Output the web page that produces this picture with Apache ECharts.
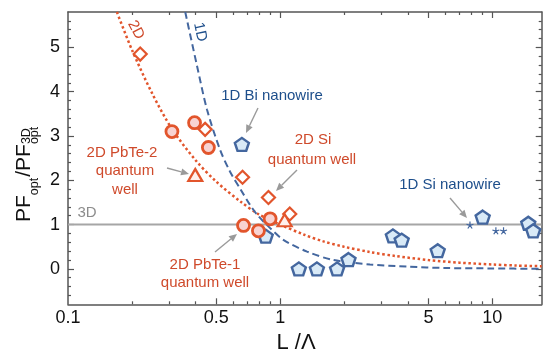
<!DOCTYPE html>
<html><head><meta charset="utf-8">
<script src="https://cdn.jsdelivr.net/npm/echarts@6/dist/echarts.min.js"></script>
<style>html,body{margin:0;padding:0;background:#fff}#c{width:556px;height:360px}</style>
</head><body><div id="c"></div>
<script>
// ---------- data ----------
const xMin = 0.1, xMax = 17.1;
const yMin = -0.8, yMax = 5.8;
const xTickLabels = [0.1, 0.5, 1, 5, 10];
const xTickMajor = [0.5, 1, 5, 10];
const xTickMinor = [0.2, 0.3, 0.4, 0.6, 0.7, 0.8, 0.9, 2, 3, 4, 6, 7, 8, 9];
const yTickLabels = [0, 1, 2, 3, 4, 5];
const yTickMinor = [-0.6, -0.4, -0.2, 0.2, 0.4, 0.6, 0.8, 1.2, 1.4, 1.6, 1.8, 2.2, 2.4, 2.6, 2.8,
  3.2, 3.4, 3.6, 3.8, 4.2, 4.4, 4.6, 4.8, 5.2, 5.4, 5.6];

const curve2D_x = [0.17, 0.2, 0.25, 0.31, 0.4, 0.5, 0.65, 0.8, 1.0, 1.3, 1.6, 2.0, 2.65, 3.5, 5, 7, 10, 13, 17.1];
const curve2D_y = [5.8, 4.95, 3.95, 3.15, 2.45, 1.97, 1.52, 1.22, 1.0, 0.77, 0.62, 0.5, 0.38, 0.29, 0.2, 0.14, 0.1, 0.075, 0.06];
const curve1D_x = [0.357, 0.405, 0.452, 0.52, 0.58, 0.65, 0.72, 0.78, 0.88, 1.04, 1.34, 1.78, 2.65, 4, 6, 10, 17.1];
const curve1D_y = [5.8, 4.6, 3.6, 2.7, 2.2, 1.8, 1.45, 1.22, 0.96, 0.65, 0.39, 0.2, 0.1, 0.05, 0.02, 0.01, 0.0];
const line3D_x = [0.1, 17.1];
const line3D_y = [1, 1];

const diamonds_x = [0.219, 0.443, 0.665, 0.881, 1.11];
const diamonds_y = [4.85, 3.15, 2.07, 1.61, 1.24];
const circles_x = [0.309, 0.395, 0.459, 0.672, 0.790, 0.897];
const circles_y = [3.10, 3.30, 2.74, 0.98, 0.86, 1.13];
const triangles_x = [0.398, 1.05];
const triangles_y = [2.12, 1.10];
const pentagons_x = [0.660, 0.855, 1.225, 1.49, 1.855, 2.10, 3.40, 3.74, 5.53, 9.01, 14.78, 15.6];
const pentagons_y = [2.81, 0.74, 0.0, 0.0, 0.0, 0.21, 0.745, 0.65, 0.41, 1.17, 1.03, 0.86];
const stars_x = [7.85, 10.4, 11.3];
const stars_y = [0.99, 0.86, 0.86];

// ---------- helpers ----------
const zip = (xs, ys) => xs.map((x, i) => [x, ys[i]]);
const L10 = v => Math.log10(v);
const FONT = '"Liberation Sans", Arial, Helvetica, sans-serif';
const RED = '#e2552c', RED_TXT = '#cf4a2b', BLUE = '#44679f', BLUE_TXT = '#1d4e8b', GRAY = '#a6a6a6', AX = '#555';

const chart = echarts.init(document.getElementById('c'), null, {renderer: 'canvas'});

function xAux(pos, values, len, showLine, labels) {
  return {
    type: 'value', min: L10(xMin), max: L10(xMax), position: pos, gridIndex: 0,
    axisLine: {show: showLine, onZero: false, lineStyle: {color: AX, width: 1.5}},
    axisTick: {show: true, inside: true, length: len, customValues: values.map(L10), lineStyle: {color: AX, width: 1.2}},
    axisLabel: labels ? {show: true, customValues: labels.map(L10), margin: 5, color: '#111', fontSize: 18, fontFamily: FONT,
      formatter: v => String(parseFloat(Math.pow(10, v).toPrecision(3)))} : {show: false},
    splitLine: {show: false}
  };
}
function yAux(pos, values, len, showLine, labels) {
  return {
    type: 'value', min: yMin, max: yMax, position: pos, gridIndex: 0,
    axisLine: {show: showLine, onZero: false, lineStyle: {color: AX, width: 1.5}},
    axisTick: {show: true, inside: true, length: len, customValues: values, lineStyle: {color: AX, width: 1.2}},
    axisLabel: labels ? {show: true, customValues: labels, margin: 8, color: '#111', fontSize: 18, fontFamily: FONT} : {show: false},
    splitLine: {show: false}
  };
}

const pentPath = 'path://M50,0 L97.55,34.55 L79.39,90.45 L20.61,90.45 L2.45,34.55 Z';
const starPath = 'path://M0,-5L0,0M0,0L4.76,-1.55M0,0L2.94,4.05M0,0L-2.94,4.05M0,0L-4.76,-1.55';

const option = {
  animation: false,
  backgroundColor: '#fff',
  grid: {left: 68, top: 12, right: 14.3, bottom: 55.7, containLabel: false},
  xAxis: [
    {type: 'log', logBase: 10, min: xMin, max: xMax, position: 'bottom',
     axisLine: {show: true, onZero: false, lineStyle: {color: AX, width: 1.5}},
     axisTick: {show: false}, axisLabel: {show: false}, splitLine: {show: false}, minorTick: {show: false}},
    xAux('bottom', xTickMajor, 6, false, xTickLabels),
    xAux('bottom', xTickMinor, 3, false, null),
    xAux('top', xTickMajor, 6, true, null),
    xAux('top', xTickMinor, 3, false, null)
  ],
  yAxis: [
    yAux('left', yTickLabels, 6, true, yTickLabels),
    yAux('left', yTickMinor, 3, false, null),
    yAux('right', yTickLabels, 6, true, null),
    yAux('right', yTickMinor, 3, false, null)
  ],
  series: [
    {type: 'line', data: zip(line3D_x, line3D_y), showSymbol: false, symbol: 'none',
     lineStyle: {color: GRAY, width: 2}, z: 1},
    {type: 'line', data: zip(curve2D_x, curve2D_y), smooth: 0.3, symbol: 'none',
     lineStyle: {color: RED, width: 2.5, type: [2.5, 2.6], cap: 'butt'}, z: 2},
    {type: 'line', data: zip(curve1D_x, curve1D_y), smooth: 0.3, symbol: 'none',
     lineStyle: {color: BLUE, width: 2, type: [7, 4], cap: 'butt'}, z: 2},
    {type: 'scatter', data: zip(pentagons_x, pentagons_y), symbol: pentPath, symbolSize: [14, 13],
     itemStyle: {color: '#d9eaf7', borderColor: BLUE, borderWidth: 2.4, opacity: 1}, z: 3},
    {type: 'scatter', data: zip(diamonds_x, diamonds_y), symbol: 'diamond', symbolSize: [13, 13],
     itemStyle: {color: '#ffffff', borderColor: RED, borderWidth: 2.2, opacity: 1}, z: 4},
    {type: 'scatter', data: zip(triangles_x, triangles_y), symbol: 'triangle', symbolSize: [14, 12],
     itemStyle: {color: '#fff0ec', borderColor: RED, borderWidth: 2.2, opacity: 1}, z: 4},
    {type: 'scatter', data: zip(circles_x, circles_y), symbol: 'circle', symbolSize: 12,
     itemStyle: {color: '#f8d3d2', borderColor: RED, borderWidth: 2.8, opacity: 1}, z: 5},
    {type: 'scatter', data: zip(stars_x, stars_y), symbol: starPath, symbolSize: 7,
     itemStyle: {color: 'none', borderColor: BLUE, borderWidth: 1.2, opacity: 1}, z: 5}
  ],
  graphic: []
};
chart.setOption(option);

// ---------- annotations ----------
const cv = document.createElement('canvas').getContext('2d');
function tw(t, s) { cv.font = s + 'px ' + FONT; return cv.measureText(t).width; }
function txt(t, x, y, color, size, extra) {
  return Object.assign({type: 'text', x: x, y: y, z: 100,
    style: {text: t, fill: color, font: size + 'px ' + FONT, align: 'center', verticalAlign: 'middle',
            textAlign: 'center', textVerticalAlign: 'middle'}}, extra || {});
}
function arrow(x1, y1, x2, y2) {
  const a = Math.atan2(y2 - y1, x2 - x1), hl = 8, hw = 3.5;
  const bx = x2 - hl * Math.cos(a), by = y2 - hl * Math.sin(a);
  return [
    {type: 'line', z: 90, shape: {x1: x1, y1: y1, x2: bx, y2: by}, style: {stroke: '#9a9a9a', lineWidth: 1.4}},
    {type: 'polygon', z: 90, shape: {points: [[x2, y2],
      [bx + hw * Math.sin(a), by - hw * Math.cos(a)], [bx - hw * Math.sin(a), by + hw * Math.cos(a)]]},
     style: {fill: '#9a9a9a'}}
  ];
}

const g = [];
const AS = 15;
g.push(txt('1D Bi nanowire', 272, 96, BLUE_TXT, AS));
g.push(txt('2D Si', 313, 140, RED_TXT, AS));
g.push(txt('quantum well', 312, 160, RED_TXT, AS));
g.push(txt('2D PbTe-2', 122, 153, RED_TXT, AS));
g.push(txt('quantum', 125, 171, RED_TXT, AS));
g.push(txt('well', 125, 190, RED_TXT, AS));
g.push(txt('2D PbTe-1', 205, 265, RED_TXT, AS));
g.push(txt('quantum well', 205, 283, RED_TXT, AS));
g.push(txt('1D Si nanowire', 450, 185, BLUE_TXT, AS));
g.push(txt('3D', 87, 213, '#8c8c8c', AS));
g.push(txt('2D', 136, 30, RED_TXT, AS, {rotation: -1.08}));
g.push(txt('1D', 200, 32, BLUE_TXT, AS, {rotation: -1.36}));
[[258, 108, 246, 133], [297, 170, 276, 191], [167, 168, 189, 174], [215, 252, 237, 234], [450, 198, 467, 218]]
  .forEach(a => arrow.apply(null, a).forEach(e => g.push(e)));

// x axis name
g.push(txt('L /Λ', 296, 343, '#111', 22));

// y axis name: PF_opt / PF_opt^3D, rotated
const big = 21, small = 12.5;
const kids = [];
let off = 0;
function piece(t, s, dy) {
  kids.push({type: 'text', x: off, y: dy, style: {text: t, fill: '#111', font: s + 'px ' + FONT,
    align: 'left', verticalAlign: 'middle', textAlign: 'left', textVerticalAlign: 'middle'}});
  return tw(t, s);
}
off += piece('PF', big, 0);
off += piece('opt', small, 11) + 1;
off += piece('/PF', big, 0);
const w1 = piece('3D', small, 3);
const w2 = piece('opt', small, 11);
off += Math.max(w1, w2);
g.push({type: 'group', x: 24, y: 222, rotation: Math.PI / 2, z: 100, children: kids});

chart.setOption({graphic: g});
</script></body></html>
